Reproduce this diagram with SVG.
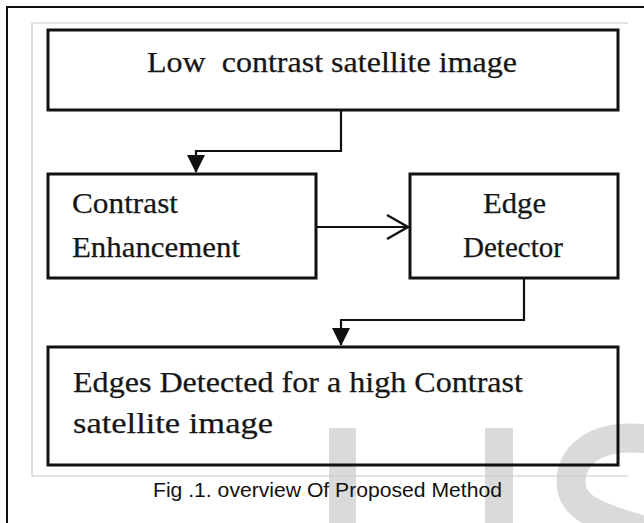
<svg xmlns="http://www.w3.org/2000/svg" width="644" height="523" viewBox="0 0 644 523">
  <style>
    .box { fill: none; stroke: #111; stroke-width: 3; }
    .wire { fill: none; stroke: #111; stroke-width: 2.2; }
    .lbl { font-family: "Liberation Serif", "DejaVu Serif", serif; font-size: 30px; fill: #161616; stroke: #161616; stroke-width: 0.25; }
    .cap { font-family: "Liberation Sans", Arial, sans-serif; font-size: 20px; fill: #111; }
    .wm { fill: #dadada; }
  </style>
  <defs>
    <marker id="tri" viewBox="0 0 18 18" refX="17" refY="9" markerWidth="18" markerHeight="18" markerUnits="userSpaceOnUse" orient="auto">
      <path d="M0,0 L18,9 L0,18 Z" fill="#111"/>
    </marker>
    <marker id="chev" viewBox="0 0 24 28" refX="22" refY="14" markerWidth="24" markerHeight="28" markerUnits="userSpaceOnUse" orient="auto">
      <path d="M1,2 L22,14 L1,26" fill="none" stroke="#111" stroke-width="2.4"/>
    </marker>
  </defs>

  <rect width="644" height="523" fill="#fff"/>

  <!-- faint watermark letters in the lower right -->
  <g id="watermark" class="wm">
    <rect x="329" y="428" width="27" height="95"/>
    <rect x="485" y="428" width="28" height="95"/>
    <path d="M720 470 C700 445 662 438 630 438 C595 438 571 455 571 482 C571 505 590 516 650 532" fill="none" stroke="#dadada" stroke-width="29"/>
  </g>

  <!-- page frame and figure frame -->
  <path d="M7 523 V7 H644" fill="none" stroke="#111" stroke-width="2"/>
  <path d="M628 23 H32 V476 H628" fill="none" stroke="#c8c8c8" stroke-width="1.2"/>

  <g id="n-input">
    <rect class="box" x="48" y="30" width="570" height="80"/>
    <text class="lbl" x="147" y="72" textLength="370" lengthAdjust="spacingAndGlyphs" xml:space="preserve">Low  contrast satellite image</text>
  </g>

  <g id="n-enhance">
    <rect class="box" x="48" y="174" width="268" height="104"/>
    <text class="lbl" x="72" y="213" textLength="106" lengthAdjust="spacingAndGlyphs">Contrast</text>
    <text class="lbl" x="72" y="257" textLength="168" lengthAdjust="spacingAndGlyphs">Enhancement</text>
  </g>

  <g id="n-detector">
    <rect class="box" x="410" y="174" width="208" height="104"/>
    <text class="lbl" x="483" y="213" textLength="63" lengthAdjust="spacingAndGlyphs">Edge</text>
    <text class="lbl" x="463" y="257" textLength="100" lengthAdjust="spacingAndGlyphs">Detector</text>
  </g>

  <g id="n-output">
    <rect class="box" x="48" y="347" width="570" height="118"/>
    <text class="lbl" x="73" y="392" font-size="31" textLength="450" lengthAdjust="spacingAndGlyphs">Edges Detected for a high Contrast</text>
    <text class="lbl" x="73" y="433" font-size="31" textLength="200" lengthAdjust="spacingAndGlyphs">satellite image</text>
  </g>

  <g id="connectors">
    <path class="wire" d="M341 110 V151 H196 V172" marker-end="url(#tri)"/>
    <path class="wire" d="M316 227 H408" marker-end="url(#chev)"/>
    <path class="wire" d="M524 278 V320 H341 V345" marker-end="url(#tri)"/>
  </g>

  <text class="cap" x="153" y="497" textLength="349" lengthAdjust="spacingAndGlyphs">Fig .1. overview Of Proposed Method</text>
</svg>
